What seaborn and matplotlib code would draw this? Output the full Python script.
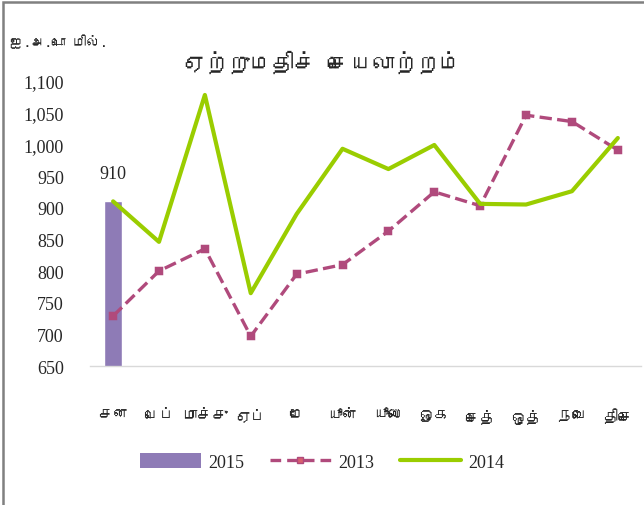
import matplotlib
matplotlib.use('Agg')
import pandas as pd
import matplotlib.pyplot as plt
import seaborn as sns
from matplotlib import font_manager
from matplotlib.ft2font import FT2Font
from matplotlib.patches import Patch, Rectangle
from matplotlib.lines import Line2D

# datos
meses = ['சன', 'பெப்', 'மாச்சு', 'ஏப்', 'மே', 'யூன்', 'யூலை', 'ஓக', 'செத்', 'ஒத்', 'நவெ', 'திசெ']
valores_2013 = [729, 800, 835, 697, 795, 810, 863, 925, 903, 1046, 1036, 991]
valores_2014 = [910, 846, 1078, 765, 890, 993, 961, 999, 906, 905, 926, 1010]
meses_2015 = ['சன']
valores_2015 = [910]
yticks = [650, 700, 750, 800, 850, 900, 950, 1000, 1050, 1100]

titulo = 'ஏற்றுமதிச் செயலாற்றம்'
unidad = 'ஐ.அ.டொ மில்.'


def fuente_tamil():
    # buscar una fuente instalada que tenga letras tamiles
    for f in font_manager.fontManager.ttflist:
        try:
            if 0x0B9A in FT2Font(f.fname).get_charmap():
                return f.name
        except Exception:
            pass
    return 'DejaVu Sans'


tamil = fuente_tamil()

sns.set_style('white')
plt.rcParams['font.family'] = ['Liberation Serif', tamil, 'DejaVu Sans']

color_2015 = '#8E7BB6'
color_2013 = '#B04A7C'
color_2014 = '#9ACD00'

fig = plt.figure(figsize=(6.44, 5.06), dpi=100)
ax = fig.add_axes([0.140, 0.2747, 0.855, 0.5632])

df_2015 = pd.DataFrame({'mes': meses_2015, 'valor': valores_2015})
df_2013 = pd.DataFrame({'mes': meses, 'valor': valores_2013})
df_2014 = pd.DataFrame({'mes': meses, 'valor': valores_2014})

sns.barplot(data=df_2015, x='mes', y='valor', order=meses, color=color_2015,
            width=0.4, saturation=1, ax=ax)
ax.bar_label(ax.containers[0], fmt='%d', padding=14, fontsize=13,
             family='Liberation Serif')

sns.pointplot(data=df_2013, x='mes', y='valor', order=meses, color=color_2013,
              markers='s', linestyles='--', errorbar=None, ax=ax,
              markersize=4, linewidth=2.4)
sns.pointplot(data=df_2014, x='mes', y='valor', order=meses, color=color_2014,
              markers='', errorbar=None, ax=ax, linewidth=3)

linea_2013 = ax.lines[0]
linea_2013.set_dashes((3.2, 1.8))
linea_2013.set_markerfacecolor('#D9606E')
linea_2013.set_markeredgecolor(color_2013)

ax.set_ylim(650, 1100)
ax.set_xlim(-0.5, 11.5)
ax.set_yticks(yticks)
ax.set_yticklabels([f'{v:,}' for v in yticks])
ax.set_xlabel('')
ax.set_ylabel('')
ax.tick_params(axis='y', length=0, pad=19, labelsize=13)
ax.tick_params(axis='x', length=0, pad=30, labelsize=11)
for lbl in ax.get_xticklabels():
    lbl.set_family([tamil, 'DejaVu Sans'])

for s in ['top', 'right', 'left']:
    ax.spines[s].set_visible(False)
ax.spines['bottom'].set_color('#D9D9D9')
ax.spines['bottom'].set_linewidth(1)

fig.text(0.50, 0.877, titulo, ha='center', va='center', fontsize=16,
         family=[tamil, 'DejaVu Sans'])
fig.text(0.016, 0.918, unidad, ha='left', va='center', fontsize=10,
         family=[tamil, 'DejaVu Sans'])

handles = [
    Patch(facecolor=color_2015, edgecolor='none'),
    Line2D([], [], color=color_2013, lw=2.4, dashes=(3.2, 1.8), marker='s',
           markersize=4, markerfacecolor='#D9606E', markeredgecolor=color_2013),
    Line2D([], [], color=color_2014, lw=3),
]
fig.legend(handles, ['2015', '2013', '2014'], loc='center', ncol=3,
           bbox_to_anchor=(0.50, 0.085), frameon=False, fontsize=13,
           handlelength=3.4, handleheight=0.9, columnspacing=1.4,
           handletextpad=0.4)

# marco gris alrededor
fig.patches.append(Rectangle((0.005, -0.02), 1.1, 1.014, transform=fig.transFigure,
                             fill=False, edgecolor='#808080', linewidth=1.8))

plt.savefig('out.png', dpi=100)
